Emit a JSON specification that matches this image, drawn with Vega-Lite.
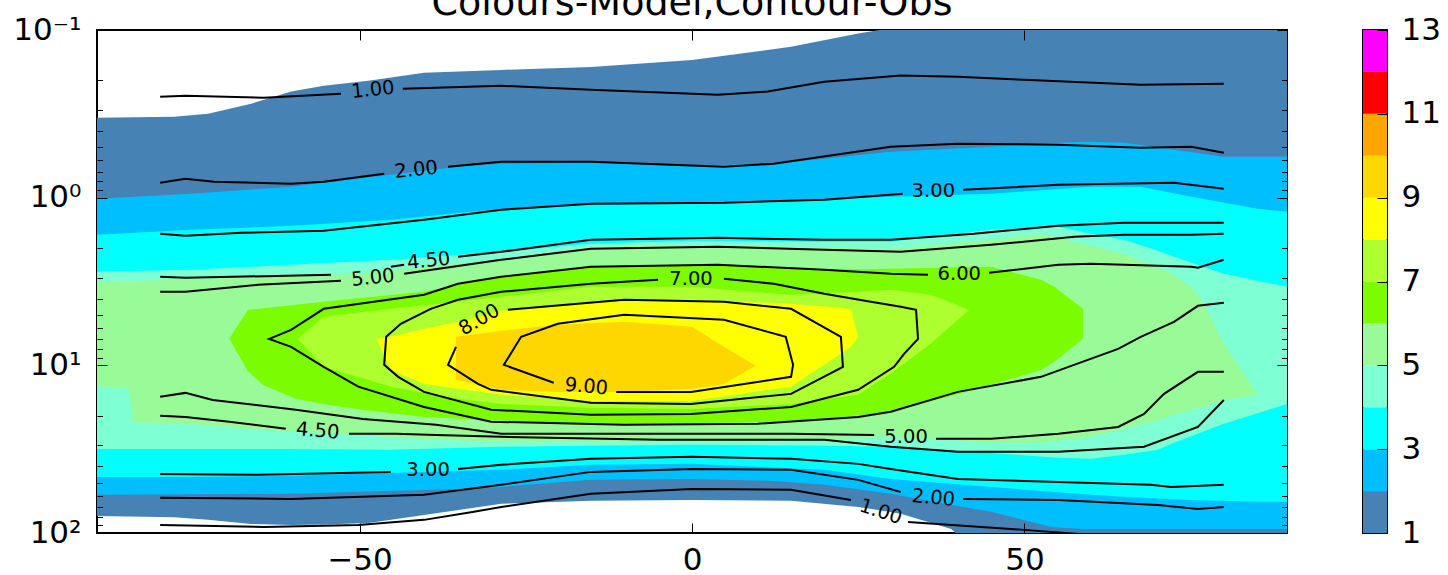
{
"$schema":"https://vega.github.io/schema/vega-lite/v6.json",
"padding":{"left":11,"top":-16,"right":0,"bottom":0},
"config":{"view":{"stroke":"black","strokeWidth":2},"font":"DejaVu Sans","axis":{"zindex":1}},
"datasets":{
"fill":[
{"k":1,"x":-89.5,"top":0.334,"bot":79.1},{"k":1,"x":-77.9,"top":0.329,"bot":80.6},{"k":1,"x":-72.8,"top":0.316,"bot":83.5},{"k":1,"x":-66.3,"top":0.275,"bot":88.3},{"k":1,"x":-60.3,"top":0.233,"bot":89.5},{"k":1,"x":-55.4,"top":0.215,"bot":88.9},{"k":1,"x":-48.7,"top":0.201,"bot":87.1},{"k":1,"x":-40.3,"top":0.18,"bot":78.0},{"k":1,"x":-28.7,"top":0.173,"bot":67.0},{"k":1,"x":-15.2,"top":0.166,"bot":64.3},{"k":1,"x":0,"top":0.151,"bot":63.5},{"k":1,"x":14.9,"top":0.126,"bot":64.3},{"k":1,"x":25.0,"top":0.105,"bot":69.9},{"k":1,"x":28.9,"top":0.099,"bot":73.8},{"k":1,"x":31.4,"top":0.08,"bot":76.9},{"k":1,"x":39.0,"top":0.08,"bot":94.5},{"k":1,"x":42.7,"top":0.08,"bot":130},{"k":1,"x":89.5,"top":0.08,"bot":130},
{"k":2,"x":-89.5,"top":1.015,"bot":59.2},{"k":2,"x":-75.4,"top":0.948,"bot":58.8},{"k":2,"x":-60.3,"top":0.861,"bot":58.4},{"k":2,"x":-45.3,"top":0.73,"bot":56.1},{"k":2,"x":-35.2,"top":0.654,"bot":54.6},{"k":2,"x":-28.7,"top":0.628,"bot":53.1},{"k":2,"x":-15.2,"top":0.611,"bot":48.2},{"k":2,"x":0,"top":0.643,"bot":47.6},{"k":2,"x":12.3,"top":0.628,"bot":48.9},{"k":2,"x":19.9,"top":0.585,"bot":51.6},{"k":2,"x":29.9,"top":0.532,"bot":58.4},{"k":2,"x":39.0,"top":0.511,"bot":68.0},{"k":2,"x":45.0,"top":0.497,"bot":74.8},{"k":2,"x":54.0,"top":0.474,"bot":92.0},{"k":2,"x":59.0,"top":0.464,"bot":94.5},{"k":2,"x":65.0,"top":0.47,"bot":94.5},{"k":2,"x":80.0,"top":0.57,"bot":94.5},{"k":2,"x":89.5,"top":0.57,"bot":94.5},
{"k":3,"x":-89.5,"top":1.665,"bot":46.3},{"k":3,"x":-75.4,"top":1.554,"bot":46.3},{"k":3,"x":-60.3,"top":1.471,"bot":45.6},{"k":3,"x":-45.3,"top":1.354,"bot":43.8},{"k":3,"x":-28.7,"top":1.164,"bot":42.0},{"k":3,"x":-15.2,"top":1.086,"bot":39.2},{"k":3,"x":0,"top":1.072,"bot":38.7},{"k":3,"x":19.9,"top":1.029,"bot":42.0},{"k":3,"x":29.9,"top":0.988,"bot":47.6},{"k":3,"x":45.0,"top":0.948,"bot":53.1},{"k":3,"x":60.0,"top":0.861,"bot":59.2},{"k":3,"x":67.5,"top":0.861,"bot":61.7},{"k":3,"x":75.1,"top":0.988,"bot":63.5},{"k":3,"x":85.1,"top":1.164,"bot":65.2},{"k":3,"x":89.5,"top":1.214,"bot":65.2},
{"k":4,"x":-89.5,"top":2.767,"bot":31.5},{"k":4,"x":-75.4,"top":2.692,"bot":31.5},{"k":4,"x":-60.3,"top":2.514,"bot":31.5},{"k":4,"x":-45.3,"top":2.347,"bot":31.9},{"k":4,"x":-28.7,"top":2.103,"bot":30.6},{"k":4,"x":-15.2,"top":1.884,"bot":30.2},{"k":4,"x":0,"top":1.808,"bot":29.8},{"k":4,"x":19.9,"top":1.834,"bot":30.2},{"k":4,"x":29.9,"top":1.834,"bot":30.6},{"k":4,"x":45.0,"top":1.554,"bot":33.3},{"k":4,"x":55.1,"top":1.491,"bot":35.6},{"k":4,"x":60.0,"top":1.643,"bot":36.1},{"k":4,"x":65.0,"top":1.784,"bot":34.2},{"k":4,"x":70.1,"top":2.074,"bot":31.9},{"k":4,"x":72.5,"top":2.252,"bot":29.0},{"k":4,"x":80.0,"top":2.845,"bot":22.3},{"k":4,"x":89.5,"top":3.401,"bot":17.0},
{"k":5,"x":-89.5,"top":3.174,"bot":13.4},{"k":5,"x":-84.7,"top":3.156,"bot":13.8},{"k":5,"x":-84.1,"top":3.152,"bot":21.7},{"k":5,"x":-74.6,"top":3.07,"bot":22.6},{"k":5,"x":-64.5,"top":2.964,"bot":24.3},{"k":5,"x":-50.2,"top":2.845,"bot":26.0},{"k":5,"x":-38.5,"top":2.549,"bot":27.8},{"k":5,"x":-28.7,"top":2.347,"bot":28.6},{"k":5,"x":-15.2,"top":1.963,"bot":28.6},{"k":5,"x":-5.1,"top":1.937,"bot":28.6},{"k":5,"x":4.8,"top":1.91,"bot":28.2},{"k":5,"x":19.9,"top":1.991,"bot":27.8},{"k":5,"x":29.9,"top":2.018,"bot":26.7},{"k":5,"x":45.0,"top":1.784,"bot":29.0},{"k":5,"x":52.5,"top":1.643,"bot":29.0},{"k":5,"x":60.0,"top":1.937,"bot":26.7},{"k":5,"x":65.0,"top":2.161,"bot":23.9},{"k":5,"x":70.1,"top":2.62,"bot":21.1},{"k":5,"x":72.5,"top":2.884,"bot":19.7},{"k":5,"x":75.1,"top":3.401,"bot":18.4},{"k":5,"x":77.0,"top":4.295,"bot":17.7},{"k":5,"x":80.0,"top":7.443,"bot":16.1},{"k":5,"x":85.1,"top":15.0,"bot":15.0},
{"k":6,"x":-69.6,"top":6.949,"bot":6.949},{"k":6,"x":-66.8,"top":4.664,"bot":10.86},{"k":6,"x":-64.5,"top":4.563,"bot":13.1},{"k":6,"x":-59.6,"top":4.355,"bot":15.8},{"k":6,"x":-55.4,"top":4.179,"bot":17.0},{"k":6,"x":-49.5,"top":3.957,"bot":18.4},{"k":6,"x":-40.3,"top":3.642,"bot":20.3},{"k":6,"x":-28.7,"top":2.964,"bot":21.4},{"k":6,"x":-15.2,"top":2.584,"bot":22.3},{"k":6,"x":4.8,"top":2.514,"bot":22.3},{"k":6,"x":19.9,"top":2.692,"bot":20.9},{"k":6,"x":29.9,"top":2.656,"bot":18.9},{"k":6,"x":42.4,"top":2.595,"bot":14.0},{"k":6,"x":45.0,"top":2.584,"bot":13.1},{"k":6,"x":52.5,"top":3.089,"bot":10.64},{"k":6,"x":54.5,"top":3.401,"bot":9.53},{"k":6,"x":58.8,"top":4.601,"bot":6.949},
{"k":7,"x":-59.3,"top":6.949,"bot":6.949},{"k":7,"x":-55.4,"top":5.136,"bot":10.21},{"k":7,"x":-45.3,"top":4.601,"bot":13.4},{"k":7,"x":-35.2,"top":4.179,"bot":15.8},{"k":7,"x":-28.7,"top":3.901,"bot":17.0},{"k":7,"x":-15.2,"top":3.401,"bot":17.9},{"k":7,"x":0,"top":3.401,"bot":18.2},{"k":7,"x":14.9,"top":3.796,"bot":17.0},{"k":7,"x":25.0,"top":3.642,"bot":15.0},{"k":7,"x":29.9,"top":3.544,"bot":11.24},{"k":7,"x":35.9,"top":3.796,"bot":7.443},{"k":7,"x":41.7,"top":4.664,"bot":4.664},
{"k":8,"x":-47.5,"top":6.949,"bot":6.949},{"k":8,"x":-45.3,"top":6.759,"bot":10.64},{"k":8,"x":-40.3,"top":6.057,"bot":12.9},{"k":8,"x":-35.2,"top":5.501,"bot":13.8},{"k":8,"x":-28.7,"top":4.729,"bot":15.0},{"k":8,"x":-15.2,"top":4.179,"bot":16.3},{"k":8,"x":0,"top":4.066,"bot":16.3},{"k":8,"x":14.9,"top":4.295,"bot":13.4},{"k":8,"x":22.4,"top":4.538,"bot":8.539},{"k":8,"x":23.9,"top":4.664,"bot":7.756},{"k":8,"x":25.0,"top":6.759,"bot":6.759},
{"k":9,"x":-35.5,"top":6.759,"bot":12.2},{"k":9,"x":-28.7,"top":6.226,"bot":14.0},{"k":9,"x":-20.2,"top":5.733,"bot":14.4},{"k":9,"x":-10.2,"top":5.501,"bot":14.4},{"k":9,"x":0,"top":5.892,"bot":13.8},{"k":9,"x":4.8,"top":7.756,"bot":12.9},{"k":9,"x":9.6,"top":10.07,"bot":10.07}
],
"lines":[
{"id":"u1a","i":0,"x":-80,"p":0.25},{"id":"u1a","i":1,"x":-76.2,"p":0.247},{"id":"u1a","i":2,"x":-64.4,"p":0.2535},{"id":"u1a","i":3,"x":-52.8,"p":0.24},
{"id":"u1b","i":0,"x":-43.5,"p":0.224},{"id":"u1b","i":1,"x":-28.7,"p":0.215},{"id":"u1b","i":2,"x":-15.2,"p":0.227},{"id":"u1b","i":3,"x":3.9,"p":0.243},{"id":"u1b","i":4,"x":11.4,"p":0.233},{"id":"u1b","i":5,"x":19.9,"p":0.2035},{"id":"u1b","i":6,"x":31.4,"p":0.187},{"id":"u1b","i":7,"x":40.0,"p":0.19},{"id":"u1b","i":8,"x":49.9,"p":0.198},{"id":"u1b","i":9,"x":67.5,"p":0.212},{"id":"u1b","i":10,"x":80,"p":0.209},
{"id":"u2a","i":0,"x":-80,"p":0.815},{"id":"u2a","i":1,"x":-76.2,"p":0.772},{"id":"u2a","i":2,"x":-71.9,"p":0.804},{"id":"u2a","i":3,"x":-60.3,"p":0.826},{"id":"u2a","i":4,"x":-55.4,"p":0.804},{"id":"u2a","i":5,"x":-46.3,"p":0.72},
{"id":"u2b","i":0,"x":-36.7,"p":0.654},{"id":"u2b","i":1,"x":-28.7,"p":0.611},{"id":"u2b","i":2,"x":-15.2,"p":0.611},{"id":"u2b","i":3,"x":4.8,"p":0.654},{"id":"u2b","i":4,"x":12.3,"p":0.628},{"id":"u2b","i":5,"x":29.9,"p":0.497},{"id":"u2b","i":6,"x":40.0,"p":0.477},{"id":"u2b","i":7,"x":55.1,"p":0.4835},{"id":"u2b","i":8,"x":67.5,"p":0.504},{"id":"u2b","i":9,"x":75.1,"p":0.497},{"id":"u2b","i":10,"x":80,"p":0.54},
{"id":"u3a","i":0,"x":-80,"p":1.643},{"id":"u3a","i":1,"x":-76.2,"p":1.688},{"id":"u3a","i":2,"x":-67.8,"p":1.62},{"id":"u3a","i":3,"x":-55.4,"p":1.576},{"id":"u3a","i":4,"x":-40.3,"p":1.354},{"id":"u3a","i":5,"x":-28.7,"p":1.18},{"id":"u3a","i":6,"x":-15.2,"p":1.086},{"id":"u3a","i":7,"x":4.8,"p":1.072},{"id":"u3a","i":8,"x":19.9,"p":1.029},{"id":"u3a","i":9,"x":31.7,"p":0.948},
{"id":"u3b","i":0,"x":40.8,"p":0.897},{"id":"u3b","i":1,"x":55.1,"p":0.838},{"id":"u3b","i":2,"x":72.5,"p":0.815},{"id":"u3b","i":3,"x":80,"p":0.885},
{"id":"u45a","i":0,"x":-80,"p":2.964},{"id":"u45a","i":1,"x":-76.2,"p":3.005},{"id":"u45a","i":2,"x":-54.3,"p":2.884},
{"id":"u45c","i":0,"x":-45.3,"p":2.584},{"id":"u45c","i":1,"x":-43.3,"p":2.514},
{"id":"u45b","i":0,"x":-35.2,"p":2.252},{"id":"u45b","i":1,"x":-28.7,"p":2.103},{"id":"u45b","i":2,"x":-15.2,"p":1.784},{"id":"u45b","i":3,"x":3.9,"p":1.735},{"id":"u45b","i":4,"x":19.9,"p":1.784},{"id":"u45b","i":5,"x":29.9,"p":1.784},{"id":"u45b","i":6,"x":42.4,"p":1.643},{"id":"u45b","i":7,"x":55.1,"p":1.471},{"id":"u45b","i":8,"x":65.0,"p":1.412},{"id":"u45b","i":9,"x":80,"p":1.412},
{"id":"u5a","i":0,"x":-80,"p":3.642},{"id":"u5a","i":1,"x":-76.2,"p":3.642},{"id":"u5a","i":2,"x":-65.3,"p":3.309},{"id":"u5a","i":3,"x":-52.8,"p":3.132},
{"id":"u5b","i":0,"x":-43.3,"p":2.845},{"id":"u5b","i":1,"x":-28.7,"p":2.347},{"id":"u5b","i":2,"x":-15.2,"p":2.018},{"id":"u5b","i":3,"x":3.9,"p":1.963},{"id":"u5b","i":4,"x":19.9,"p":2.046},{"id":"u5b","i":5,"x":31.4,"p":2.103},{"id":"u5b","i":6,"x":45.0,"p":1.91},{"id":"u5b","i":7,"x":57.5,"p":1.712},{"id":"u5b","i":8,"x":65.0,"p":1.665},{"id":"u5b","i":9,"x":75.1,"p":1.665},{"id":"u5b","i":10,"x":80,"p":1.643},
{"id":"c6a","i":0,"x":35.5,"p":2.884},{"id":"c6a","i":1,"x":29.9,"p":2.845},{"id":"c6a","i":2,"x":19.9,"p":2.692},{"id":"c6a","i":3,"x":3.9,"p":2.514},{"id":"c6a","i":4,"x":-15.2,"p":2.584},{"id":"c6a","i":5,"x":-28.7,"p":2.964},{"id":"c6a","i":6,"x":-35.2,"p":3.264},{"id":"c6a","i":7,"x":-40.3,"p":3.796},{"id":"c6a","i":8,"x":-55.4,"p":4.601},{"id":"c6a","i":9,"x":-60.3,"p":6.14},{"id":"c6a","i":10,"x":-63.6,"p":6.949},{"id":"c6a","i":11,"x":-60.3,"p":7.756},{"id":"c6a","i":12,"x":-55.4,"p":10.21},{"id":"c6a","i":13,"x":-50.2,"p":13.4},{"id":"c6a","i":14,"x":-40.3,"p":17.7},{"id":"c6a","i":15,"x":-30.2,"p":21.7},{"id":"c6a","i":16,"x":-10.2,"p":22.6},{"id":"c6a","i":17,"x":9.9,"p":22.3},{"id":"c6a","i":18,"x":25.0,"p":20.3},{"id":"c6a","i":19,"x":29.9,"p":18.9},{"id":"c6a","i":20,"x":40.0,"p":14.4},{"id":"c6a","i":21,"x":52.5,"p":11.71},{"id":"c6a","i":22,"x":64.1,"p":7.971},{"id":"c6a","i":23,"x":67.5,"p":6.759},{"id":"c6a","i":24,"x":72.5,"p":5.501},{"id":"c6a","i":25,"x":76.1,"p":4.415},{"id":"c6a","i":26,"x":80,"p":4.237},
{"id":"c6b","i":0,"x":44.7,"p":2.806},{"id":"c6b","i":1,"x":55.1,"p":2.514},{"id":"c6b","i":2,"x":60.0,"p":2.48},{"id":"c6b","i":3,"x":75.1,"p":2.584},{"id":"c6b","i":4,"x":76.1,"p":2.62},{"id":"c6b","i":5,"x":80,"p":2.347},
{"id":"c7","i":0,"x":4.8,"p":3.047},{"id":"c7","i":1,"x":12.3,"p":3.264},{"id":"c7","i":2,"x":19.9,"p":3.744},{"id":"c7","i":3,"x":26.9,"p":4.179},{"id":"c7","i":4,"x":31.4,"p":4.476},{"id":"c7","i":5,"x":33.7,"p":4.664},{"id":"c7","i":6,"x":34.0,"p":6.949},{"id":"c7","i":7,"x":31.9,"p":8.539},{"id":"c7","i":8,"x":30.4,"p":10.21},{"id":"c7","i":9,"x":25.0,"p":14.0},{"id":"c7","i":10,"x":14.9,"p":17.7},{"id":"c7","i":11,"x":-0.15,"p":19.5},{"id":"c7","i":12,"x":-15.2,"p":19.7},{"id":"c7","i":13,"x":-30.2,"p":18.4},{"id":"c7","i":14,"x":-40.3,"p":14.4},{"id":"c7","i":15,"x":-44.2,"p":11.71},{"id":"c7","i":16,"x":-46.3,"p":9.932},{"id":"c7","i":17,"x":-46.0,"p":6.759},{"id":"c7","i":18,"x":-43.8,"p":5.655},{"id":"c7","i":19,"x":-39.3,"p":4.601},{"id":"c7","i":20,"x":-35.2,"p":4.066},{"id":"c7","i":21,"x":-28.7,"p":3.642},{"id":"c7","i":22,"x":-15.2,"p":3.264},{"id":"c7","i":23,"x":-5.1,"p":3.089},
{"id":"c8","i":0,"x":-27.7,"p":4.664},{"id":"c8","i":1,"x":-10.2,"p":4.066},{"id":"c8","i":2,"x":4.8,"p":4.179},{"id":"c8","i":3,"x":14.9,"p":4.601},{"id":"c8","i":4,"x":22.4,"p":6.759},{"id":"c8","i":5,"x":22.7,"p":10.21},{"id":"c8","i":6,"x":14.9,"p":14.8},{"id":"c8","i":7,"x":-0.15,"p":17.0},{"id":"c8","i":8,"x":-15.2,"p":16.7},{"id":"c8","i":9,"x":-30.2,"p":14.0},{"id":"c8","i":10,"x":-32.2,"p":12.9},{"id":"c8","i":11,"x":-36.7,"p":9.932},{"id":"c8","i":12,"x":-35.5,"p":7.756},
{"id":"c9","i":0,"x":-11.4,"p":14.4},{"id":"c9","i":1,"x":-0.15,"p":14.4},{"id":"c9","i":2,"x":14.9,"p":11.71},{"id":"c9","i":3,"x":15.2,"p":9.932},{"id":"c9","i":4,"x":14.1,"p":6.759},{"id":"c9","i":5,"x":4.8,"p":5.352},{"id":"c9","i":6,"x":-10.2,"p":4.997},{"id":"c9","i":7,"x":-20.2,"p":5.655},{"id":"c9","i":8,"x":-25.7,"p":6.759},{"id":"c9","i":9,"x":-28.3,"p":9.932},{"id":"c9","i":10,"x":-20.8,"p":12.7},
{"id":"l5a","i":0,"x":-80,"p":15.4},{"id":"l5a","i":1,"x":-76.2,"p":14.6},{"id":"l5a","i":2,"x":-72.1,"p":16.1},{"id":"l5a","i":3,"x":-59.6,"p":18.4},{"id":"l5a","i":4,"x":-49.5,"p":20.9},{"id":"l5a","i":5,"x":-38.5,"p":22.6},{"id":"l5a","i":6,"x":-28.7,"p":25.6},{"id":"l5a","i":7,"x":-15.2,"p":25.6},{"id":"l5a","i":8,"x":0,"p":25.6},{"id":"l5a","i":9,"x":14.9,"p":25.6},{"id":"l5a","i":10,"x":27.4,"p":26.0},
{"id":"l5b","i":0,"x":36.7,"p":27.4},{"id":"l5b","i":1,"x":45.0,"p":27.4},{"id":"l5b","i":2,"x":55.1,"p":25.6},{"id":"l5b","i":3,"x":64.1,"p":23.3},{"id":"l5b","i":4,"x":68.0,"p":19.5},{"id":"l5b","i":5,"x":71.0,"p":14.8},{"id":"l5b","i":6,"x":76.1,"p":10.93},{"id":"l5b","i":7,"x":80,"p":10.93},
{"id":"l45a","i":0,"x":-80,"p":20.0},{"id":"l45a","i":1,"x":-76.2,"p":20.3},{"id":"l45a","i":2,"x":-69.6,"p":21.7},{"id":"l45a","i":3,"x":-61.1,"p":23.9},
{"id":"l45b","i":0,"x":-51.6,"p":25.6},{"id":"l45b","i":1,"x":-44.5,"p":25.6},{"id":"l45b","i":2,"x":-38.5,"p":26.0},{"id":"l45b","i":3,"x":-28.7,"p":26.7},{"id":"l45b","i":4,"x":-5.1,"p":27.8},{"id":"l45b","i":5,"x":19.9,"p":27.8},{"id":"l45b","i":6,"x":29.9,"p":30.6},{"id":"l45b","i":7,"x":40.0,"p":32.8},{"id":"l45b","i":8,"x":55.1,"p":32.8},{"id":"l45b","i":9,"x":68.0,"p":30.6},{"id":"l45b","i":10,"x":76.1,"p":23.3},{"id":"l45b","i":11,"x":80,"p":16.1},
{"id":"l3a","i":0,"x":-80,"p":44.4},{"id":"l3a","i":1,"x":-65.3,"p":45.0},{"id":"l3a","i":2,"x":-45.3,"p":43.2},
{"id":"l3b","i":0,"x":-35.2,"p":41.5},{"id":"l3b","i":1,"x":-28.7,"p":39.2},{"id":"l3b","i":2,"x":-15.2,"p":36.1},{"id":"l3b","i":3,"x":0,"p":35.1},{"id":"l3b","i":4,"x":14.9,"p":36.1},{"id":"l3b","i":5,"x":25.0,"p":38.7},{"id":"l3b","i":6,"x":29.9,"p":41.5},{"id":"l3b","i":7,"x":40.0,"p":47.6},{"id":"l3b","i":8,"x":55.1,"p":49.6},{"id":"l3b","i":9,"x":69.0,"p":51.6},{"id":"l3b","i":10,"x":72.1,"p":53.1},{"id":"l3b","i":11,"x":80,"p":51.6},
{"id":"l2a","i":0,"x":-80,"p":61.7},{"id":"l2a","i":1,"x":-60.3,"p":62.6},{"id":"l2a","i":2,"x":-40.3,"p":59.2},{"id":"l2a","i":3,"x":-28.7,"p":51.6},{"id":"l2a","i":4,"x":-15.2,"p":43.2},{"id":"l2a","i":5,"x":0,"p":41.5},{"id":"l2a","i":6,"x":14.9,"p":42.0},{"id":"l2a","i":7,"x":25.0,"p":48.2},{"id":"l2a","i":8,"x":31.4,"p":56.9},
{"id":"l2b","i":0,"x":40.8,"p":62.6},{"id":"l2b","i":1,"x":55.1,"p":63.5},{"id":"l2b","i":2,"x":70.1,"p":68.0},{"id":"l2b","i":3,"x":76.1,"p":71.8},{"id":"l2b","i":4,"x":80,"p":69.9},
{"id":"l1a","i":0,"x":-80,"p":89.5},{"id":"l1a","i":1,"x":-64.4,"p":92.0},{"id":"l1a","i":2,"x":-50.2,"p":89.5},{"id":"l1a","i":3,"x":-40.3,"p":83.5},{"id":"l1a","i":4,"x":-32.8,"p":74.8},{"id":"l1a","i":5,"x":-28.7,"p":69.9},{"id":"l1a","i":6,"x":-15.2,"p":58.4},{"id":"l1a","i":7,"x":0,"p":54.6},{"id":"l1a","i":8,"x":14.9,"p":55.3},{"id":"l1a","i":9,"x":23.9,"p":63.5},
{"id":"l1b","i":0,"x":32.5,"p":85.9},{"id":"l1b","i":1,"x":49.9,"p":95.8},{"id":"l1b","i":2,"x":60.0,"p":102.6},{"id":"l1b","i":3,"x":80,"p":113}
],
"labels":[
{"id":"u1","x":-48.0,"p":0.227,"t":"1.00"},{"id":"u2","x":-41.5,"p":0.682,"t":"2.00"},{"id":"u45","x":-39.6,"p":2.379,"t":"4.50"},{"id":"u5","x":-48.0,"p":3.005,"t":"5.00"},
{"id":"u3","x":36.3,"p":0.91,"t":"3.00"},{"id":"c6","x":40.2,"p":2.845,"t":"6.00"},{"id":"c7","x":-0.15,"p":3.047,"t":"7.00"},{"id":"l3","x":-39.7,"p":42.0,"t":"3.00"},{"id":"l5","x":32.2,"p":26.7,"t":"5.00"},
{"id":"c8","x":-32.0,"p":5.352,"t":"8.00"},
{"id":"c9","x":-15.9,"p":13.4,"t":"9.00"},{"id":"l45","x":-56.3,"p":24.6,"t":"4.50"},{"id":"l2","x":36.3,"p":61.7,"t":"2.00"},
{"id":"l1","x":28.4,"p":74.8,"t":"1.00"}
],
"cbar":[
{"lo":1,"hi":2,"c":"b1"},{"lo":2,"hi":3,"c":"b2"},{"lo":3,"hi":4,"c":"b3"},{"lo":4,"hi":5,"c":"b4"},{"lo":5,"hi":6,"c":"b5"},{"lo":6,"hi":7,"c":"b6"},{"lo":7,"hi":8,"c":"b7"},{"lo":8,"hi":9,"c":"b8"},{"lo":9,"hi":10,"c":"b9"},{"lo":10,"hi":11,"c":"b10"},{"lo":11,"hi":12,"c":"b11"},{"lo":12,"hi":13,"c":"b12"}
]
},
"hconcat":[
{
"width":1190,"height":503,
"title":{"text":"Colours-Model,Contour-Obs","fontSize":38,"font":"DejaVu Sans","fontWeight":"normal","color":"black","anchor":"middle","frame":"group","baseline":"alphabetic","offset":-39},
"resolve":{"axis":{"x":"independent","y":"independent"}},
"layer":[
{"data":{"name":"fill"},"transform":[{"filter":"datum.k==1"}],"mark":{"type":"area","color":"#4682b4","clip":true},
 "encoding":{
  "x":{"field":"x","type":"quantitative","scale":{"domain":[-89.5,89.5],"nice":false,"zero":false},
   "axis":{"orient":"bottom","values":[-50,0,50],"tickSize":-10,"tickColor":"black","tickWidth":1,"domain":false,"grid":false,"title":null,"labelFont":"DejaVu Sans","labelFontSize":31,"labelColor":"black","labelPadding":22,"labelFlush":false,"labelOverlap":false,"zindex":1}},
  "y":{"field":"top","type":"quantitative","scale":{"type":"log","domain":[0.1,100],"reverse":true,"nice":false},
   "axis":{"orient":"left","values":[0.1,0.2,0.3,0.4,0.5,0.6,0.7,0.8,0.9,1,2,3,4,5,6,7,8,9,10,20,30,40,50,60,70,80,90,100],
    "tickSize":{"condition":{"test":"datum.value==0.1||datum.value==1||datum.value==10||datum.value==100","value":-10},"value":-5.5},
    "tickColor":"black","tickWidth":1,"domain":false,"grid":false,"title":null,"zindex":1,
    "labelExpr":"datum.value==0.1?'10⁻¹':datum.value==1?'10⁰':datum.value==10?'10¹':datum.value==100?'10²':''",
    "labelFont":"DejaVu Sans","labelFontSize":31,"labelColor":"black","labelPadding":26,"labelFlush":false,"labelOverlap":false,"labelBound":false}},
  "y2":{"field":"bot"}}},
{"data":{"name":"fill"},"transform":[{"filter":"datum.k==2"}],"mark":{"type":"area","color":"#00bfff","clip":true},
 "encoding":{"x":{"field":"x","type":"quantitative","scale":{"domain":[-89.5,89.5],"nice":false,"zero":false},"axis":null},"y":{"field":"top","type":"quantitative","scale":{"type":"log","domain":[0.1,100],"reverse":true,"nice":false},"axis":null},"y2":{"field":"bot"}}},
{"data":{"name":"fill"},"transform":[{"filter":"datum.k==3"}],"mark":{"type":"area","color":"#00ffff","clip":true},
 "encoding":{"x":{"field":"x","type":"quantitative","scale":{"domain":[-89.5,89.5],"nice":false,"zero":false},"axis":null},"y":{"field":"top","type":"quantitative","scale":{"type":"log","domain":[0.1,100],"reverse":true,"nice":false},"axis":null},"y2":{"field":"bot"}}},
{"data":{"name":"fill"},"transform":[{"filter":"datum.k==4"}],"mark":{"type":"area","color":"#7fffd4","clip":true},
 "encoding":{"x":{"field":"x","type":"quantitative","scale":{"domain":[-89.5,89.5],"nice":false,"zero":false},"axis":null},"y":{"field":"top","type":"quantitative","scale":{"type":"log","domain":[0.1,100],"reverse":true,"nice":false},"axis":null},"y2":{"field":"bot"}}},
{"data":{"name":"fill"},"transform":[{"filter":"datum.k==5"}],"mark":{"type":"area","color":"#98fb98","clip":true},
 "encoding":{"x":{"field":"x","type":"quantitative","scale":{"domain":[-89.5,89.5],"nice":false,"zero":false},"axis":null},"y":{"field":"top","type":"quantitative","scale":{"type":"log","domain":[0.1,100],"reverse":true,"nice":false},"axis":null},"y2":{"field":"bot"}}},
{"data":{"name":"fill"},"transform":[{"filter":"datum.k==6"}],"mark":{"type":"area","color":"#7cfc00","clip":true},
 "encoding":{"x":{"field":"x","type":"quantitative","scale":{"domain":[-89.5,89.5],"nice":false,"zero":false},"axis":null},"y":{"field":"top","type":"quantitative","scale":{"type":"log","domain":[0.1,100],"reverse":true,"nice":false},"axis":null},"y2":{"field":"bot"}}},
{"data":{"name":"fill"},"transform":[{"filter":"datum.k==7"}],"mark":{"type":"area","color":"#adff2f","clip":true},
 "encoding":{"x":{"field":"x","type":"quantitative","scale":{"domain":[-89.5,89.5],"nice":false,"zero":false},"axis":null},"y":{"field":"top","type":"quantitative","scale":{"type":"log","domain":[0.1,100],"reverse":true,"nice":false},"axis":null},"y2":{"field":"bot"}}},
{"data":{"name":"fill"},"transform":[{"filter":"datum.k==8"}],"mark":{"type":"area","color":"#ffff00","clip":true},
 "encoding":{"x":{"field":"x","type":"quantitative","scale":{"domain":[-89.5,89.5],"nice":false,"zero":false},"axis":null},"y":{"field":"top","type":"quantitative","scale":{"type":"log","domain":[0.1,100],"reverse":true,"nice":false},"axis":null},"y2":{"field":"bot"}}},
{"data":{"name":"fill"},"transform":[{"filter":"datum.k==9"}],"mark":{"type":"area","color":"#ffd700","clip":true},
 "encoding":{"x":{"field":"x","type":"quantitative","scale":{"domain":[-89.5,89.5],"nice":false,"zero":false},"axis":null},"y":{"field":"top","type":"quantitative","scale":{"type":"log","domain":[0.1,100],"reverse":true,"nice":false},"axis":null},"y2":{"field":"bot"}}},
{"data":{"name":"lines"},"mark":{"type":"line","color":"black","strokeWidth":2,"clip":true},
 "encoding":{
  "x":{"field":"x","type":"quantitative","scale":{"domain":[-89.5,89.5],"nice":false,"zero":false},
   "axis":{"orient":"top","values":[-50,0,50],"tickSize":-10,"tickColor":"black","tickWidth":1,"domain":false,"grid":false,"title":null,"labels":false,"zindex":1}},
  "y":{"field":"p","type":"quantitative","scale":{"type":"log","domain":[0.1,100],"reverse":true,"nice":false},
   "axis":{"orient":"right","values":[0.1,0.2,0.3,0.4,0.5,0.6,0.7,0.8,0.9,1,2,3,4,5,6,7,8,9,10,20,30,40,50,60,70,80,90,100],
    "tickSize":{"condition":{"test":"datum.value==0.1||datum.value==1||datum.value==10||datum.value==100","value":-10},"value":-5.5},
    "tickColor":"black","tickWidth":1,"domain":false,"grid":false,"title":null,"labels":false,"zindex":1}},
  "detail":{"field":"id"},
  "order":{"field":"i","type":"quantitative"}}},
{"data":{"name":"labels"},"transform":[{"filter":"indexof(['u1','u2','u45','u5'],datum.id)>=0"}],"mark":{"type":"text","angle":-6,"fontSize":19.5,"font":"DejaVu Sans","color":"black","align":"center","baseline":"middle","clip":true},
 "encoding":{"x":{"field":"x","type":"quantitative","scale":{"domain":[-89.5,89.5],"nice":false,"zero":false},"axis":null},"y":{"field":"p","type":"quantitative","scale":{"type":"log","domain":[0.1,100],"reverse":true,"nice":false},"axis":null},"text":{"field":"t"}}},
{"data":{"name":"labels"},"transform":[{"filter":"indexof(['u3','c6','c7','l3','l5'],datum.id)>=0"}],"mark":{"type":"text","angle":0,"fontSize":19.5,"font":"DejaVu Sans","color":"black","align":"center","baseline":"middle","clip":true},
 "encoding":{"x":{"field":"x","type":"quantitative","scale":{"domain":[-89.5,89.5],"nice":false,"zero":false},"axis":null},"y":{"field":"p","type":"quantitative","scale":{"type":"log","domain":[0.1,100],"reverse":true,"nice":false},"axis":null},"text":{"field":"t"}}},
{"data":{"name":"labels"},"transform":[{"filter":"datum.id=='c8'"}],"mark":{"type":"text","angle":-30,"fontSize":19.5,"font":"DejaVu Sans","color":"black","align":"center","baseline":"middle","clip":true},
 "encoding":{"x":{"field":"x","type":"quantitative","scale":{"domain":[-89.5,89.5],"nice":false,"zero":false},"axis":null},"y":{"field":"p","type":"quantitative","scale":{"type":"log","domain":[0.1,100],"reverse":true,"nice":false},"axis":null},"text":{"field":"t"}}},
{"data":{"name":"labels"},"transform":[{"filter":"indexof(['c9','l45','l2'],datum.id)>=0"}],"mark":{"type":"text","angle":5,"fontSize":19.5,"font":"DejaVu Sans","color":"black","align":"center","baseline":"middle","clip":true},
 "encoding":{"x":{"field":"x","type":"quantitative","scale":{"domain":[-89.5,89.5],"nice":false,"zero":false},"axis":null},"y":{"field":"p","type":"quantitative","scale":{"type":"log","domain":[0.1,100],"reverse":true,"nice":false},"axis":null},"text":{"field":"t"}}},
{"data":{"name":"labels"},"transform":[{"filter":"datum.id=='l1'"}],"mark":{"type":"text","angle":18,"fontSize":19.5,"font":"DejaVu Sans","color":"black","align":"center","baseline":"middle","clip":true},
 "encoding":{"x":{"field":"x","type":"quantitative","scale":{"domain":[-89.5,89.5],"nice":false,"zero":false},"axis":null},"y":{"field":"p","type":"quantitative","scale":{"type":"log","domain":[0.1,100],"reverse":true,"nice":false},"axis":null},"text":{"field":"t"}}}
]
},
{
"width":24,"height":503,
"data":{"name":"cbar"},
"mark":{"type":"rect"},
"encoding":{
 "x":{"value":0},"x2":{"value":"width"},
 "y":{"field":"lo","type":"quantitative","scale":{"domain":[1,13],"nice":false,"zero":false},
  "axis":{"orient":"right","values":[1,3,5,7,9,11,13],"tickSize":-10,"tickColor":"black","tickWidth":1,"domain":false,"grid":false,"title":null,"zindex":1,"labelFont":"DejaVu Sans","labelFontSize":31,"labelColor":"black","labelPadding":24,"labelFlush":false,"labelOverlap":false,"labelBound":false}},
 "y2":{"field":"hi"},
 "color":{"field":"c","type":"nominal","scale":{"domain":["b1","b2","b3","b4","b5","b6","b7","b8","b9","b10","b11","b12"],"range":["#4682b4","#00bfff","#00ffff","#7fffd4","#98fb98","#7cfc00","#adff2f","#ffff00","#ffd700","#ffa500","#ff0000","#ff00ff"]},"legend":null}
}
}
],
"spacing":73
}
